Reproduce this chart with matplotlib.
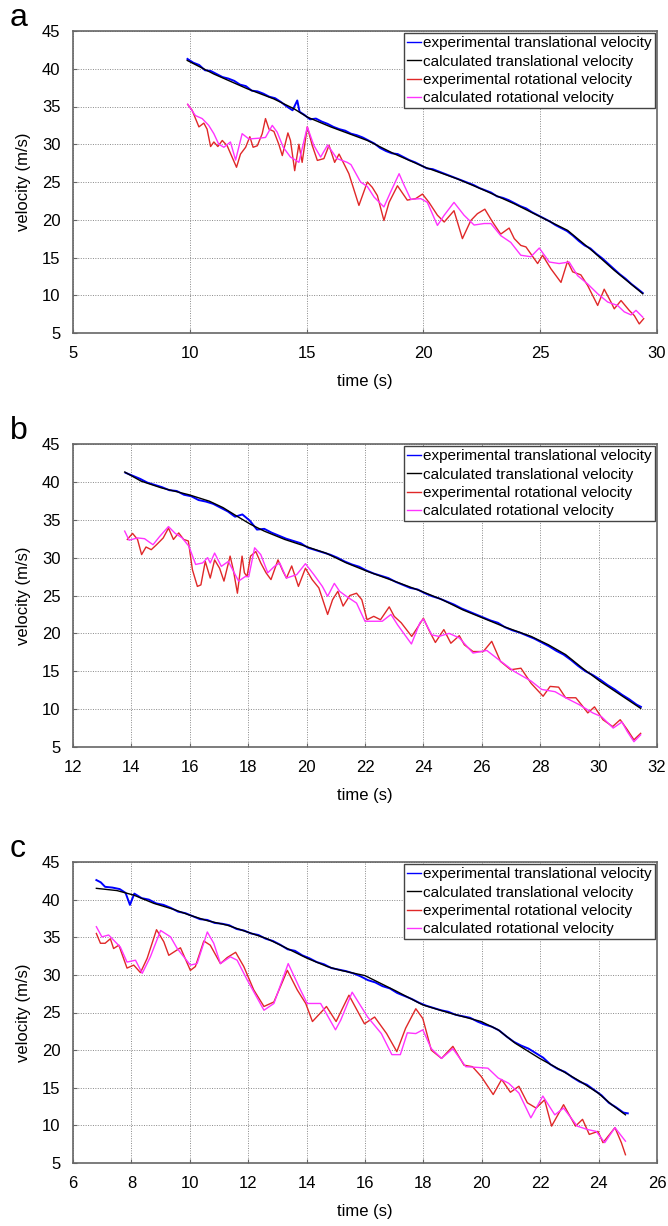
import matplotlib
matplotlib.use("Agg")
import matplotlib.pyplot as plt

plt.rcParams['font.family'] = ['Liberation Sans', 'DejaVu Sans']

labels = ["experimental translational velocity", "calculated translational velocity",
          "experimental rotational velocity", "calculated rotational velocity"]
panel_letters = ["a", "b", "c"]
yticks = [5, 10, 15, 20, 25, 30, 35, 40, 45]
a_xticks = [5, 10, 15, 20, 25, 30]
b_xticks = [12, 14, 16, 18, 20, 22, 24, 26, 28, 30, 32]
c_xticks = [6, 8, 10, 12, 14, 16, 18, 20, 22, 24, 26]

# ---------------- panel a ----------------
a_t_exp_tr = [9.9,10.15,10.4,10.65,10.9,11.15,11.4,11.65,11.9,12.15,12.4,12.65,12.9,13.15,13.4,13.65,13.9,14.15,14.4,14.6,14.7,
              14.9,15.15,15.4,15.65,15.9,16.15,16.4,16.65,16.9,17.15,17.4,17.65,17.9,18.15,18.4,18.65,18.9,19.15,19.4,19.65,
              19.9,20.15,20.4,20.65,20.9,21.15,21.4,21.65,21.9,22.15,22.4,22.65,22.9,23.15,23.4,23.65,23.9,24.15,24.4,24.65,
              24.9,25.15,25.4,25.65,25.9,26.15,26.4,26.65,26.9,27.15,27.4,27.65,27.9,28.15,28.4,28.65,28.9,29.15,29.39]
a_v_exp_tr = [41.3,40.8,40.5,39.8,39.7,39.3,38.9,38.7,38.4,37.9,37.7,37.1,37.0,36.7,36.3,36.1,35.6,35.0,34.5,35.8,34.3,
              33.9,33.3,33.4,33.0,32.7,32.3,32.0,31.8,31.4,31.2,30.9,30.5,30.1,29.5,29.1,28.8,28.7,28.3,27.9,27.6,
              27.2,26.8,26.7,26.4,26.1,25.8,25.5,25.2,24.9,24.6,24.2,23.9,23.6,23.1,22.9,22.6,22.2,21.8,21.5,21.0,
              20.6,20.2,19.8,19.3,18.9,18.5,17.9,17.2,16.6,16.2,15.5,14.9,14.2,13.5,12.8,12.2,11.5,10.9,10.3]
a_t_calc_tr = [9.89,11.03,12.46,13.6,14.46,15.03,16.03,17.6,18.74,20.03,21.46,22.46,23.9,25.03,26.17,27.3,28.17,29.39]
a_v_calc_tr = [41.1,39.3,37.35,36.0,34.7,33.6,32.3,30.5,28.75,27.0,25.4,24.1,22.1,20.35,18.6,15.7,13.3,10.2]
a_t_exp_rot = [9.91,10.1,10.39,10.6,10.74,10.89,11.03,11.2,11.39,11.6,11.81,12.0,12.17,12.39,12.57,12.71,12.89,
               13.1,13.24,13.39,13.6,13.81,13.96,14.2,14.31,14.49,14.67,14.81,15.03,
               15.24,15.46,15.74,15.96,16.2,16.39,16.81,17.24,17.6,17.81,18.03,18.31,18.53,18.89,19.31,19.67,19.96,
               20.24,20.6,20.89,21.31,21.67,22.03,22.31,22.63,22.96,23.31,23.67,23.89,24.17,24.39,24.89,25.1,25.46,
               25.89,26.17,26.39,26.74,27.03,27.46,27.74,28.03,28.17,28.46,28.81,29.03,29.24,29.43]
a_v_exp_rot = [35.27,34.5,32.3,32.8,32.0,29.7,30.3,29.7,30.5,29.8,28.3,26.95,28.7,29.6,31.0,29.6,29.8,
               31.4,33.4,32.0,31.7,30.0,28.5,31.5,30.5,26.5,30.0,27.6,32.3,
               29.85,27.86,28.1,29.85,27.6,28.7,26.1,21.9,25.0,24.3,23.2,19.9,22.3,24.5,22.6,22.8,23.4,
               22.3,20.6,19.7,21.2,17.5,19.9,20.8,21.4,19.7,18.1,18.9,17.5,16.6,16.4,14.2,15.3,13.5,
               11.7,14.5,13.1,12.7,11.3,8.65,10.8,9.1,8.2,9.3,8.0,7.3,6.2,6.9]
a_t_calc_rot = [9.91,10.24,10.53,10.81,11.03,11.24,11.46,11.74,11.96,12.24,12.53,12.96,13.24,13.53,13.74,14.0,14.31,14.53,
                14.67,15.03,15.31,15.6,15.9,16.3,16.74,16.9,17.31,17.6,17.89,18.31,18.6,18.96,19.17,19.46,19.89,20.17,
                20.6,20.89,21.31,21.74,22.17,22.6,22.89,23.31,23.74,24.17,24.6,24.96,25.39,25.81,26.24,26.6,27.03,27.46,
                27.89,28.31,28.6,28.89,29.1,29.39]
a_v_calc_rot = [35.3,33.8,33.4,32.5,31.4,30.0,29.6,30.3,27.9,31.4,30.7,30.8,30.9,32.5,31.6,29.6,28.3,27.9,
                27.6,32.3,29.85,28.3,29.9,28.1,27.6,27.3,25.0,24.4,23.0,21.7,23.7,26.1,24.6,22.7,22.8,22.3,
                19.25,20.6,22.3,20.6,19.3,19.5,19.5,17.9,17.0,15.3,15.1,16.25,14.4,14.2,14.4,12.6,11.5,10.2,
                9.1,8.65,7.8,7.4,8.0,7.1]

# ---------------- panel b ----------------
b_t_exp_tr = [13.8,14.05,14.3,14.55,14.8,15.05,15.3,15.55,15.8,16.05,16.3,16.55,16.8,17.05,17.3,17.55,17.8,18.05,18.3,18.55,
              18.8,19.05,19.3,19.55,19.8,20.05,20.3,20.55,20.8,21.05,21.3,21.55,21.8,22.05,22.3,22.55,22.8,23.05,23.3,23.55,
              23.8,24.05,24.3,24.55,24.8,25.05,25.3,25.55,25.8,26.05,26.3,26.55,26.8,27.05,27.3,27.55,27.8,28.05,28.3,28.55,
              28.8,29.05,29.3,29.55,29.8,30.05,30.3,30.55,30.8,31.05,31.3,31.45]
b_v_exp_tr = [41.2,40.8,40.4,39.9,39.6,39.3,38.9,38.8,38.3,38.1,37.6,37.4,37.1,36.6,36.1,35.4,35.7,34.9,33.7,33.8,
              33.3,32.9,32.5,32.2,31.9,31.3,31.0,30.7,30.4,30.0,29.5,29.1,28.8,28.3,27.9,27.6,27.3,26.8,26.4,26.0,
              25.8,25.3,24.9,24.6,24.2,23.8,23.3,22.9,22.5,22.1,21.7,21.4,20.8,20.4,20.1,19.7,19.3,18.8,18.3,17.7,
              17.2,16.5,15.7,15.0,14.5,13.9,13.2,12.6,11.9,11.3,10.6,10.3]
b_t_calc_tr = [13.77,14.33,15.03,15.97,16.67,17.14,17.6,18.08,18.55,19.25,19.96,20.66,21.36,22.07,23.0,23.94,24.64,
               25.35,26.05,26.75,27.69,28.28,28.87,29.45,30.04,30.74,31.44]
b_v_calc_tr = [41.3,40.1,39.2,38.3,37.45,36.6,35.5,34.4,33.5,32.4,31.5,30.6,29.3,28.2,26.9,25.55,24.45,
               23.1,22.0,20.9,19.6,18.5,17.2,15.4,13.7,11.9,10.1]
b_t_exp_rot = [13.86,14.04,14.21,14.35,14.5,14.68,14.86,15.09,15.27,15.44,15.62,15.79,15.95,16.09,16.26,16.38,16.53,16.7,
               16.85,17.02,17.17,17.38,17.49,17.63,17.79,17.87,17.96,18.08,18.26,18.43,18.61,18.78,19.02,19.19,19.31,
               19.49,19.72,19.96,20.19,20.42,20.72,20.89,21.07,21.25,21.48,21.71,21.89,22.07,22.3,22.53,22.83,23.0,
               23.24,23.6,23.82,24.0,24.18,24.41,24.7,24.94,25.23,25.4,25.7,26.05,26.34,26.64,26.99,27.34,27.69,28.1,
               28.34,28.63,28.87,29.22,29.45,29.63,29.86,30.15,30.48,30.74,30.98,31.21,31.44]
b_v_exp_rot = [32.4,33.2,32.4,30.4,31.4,31.05,31.7,32.6,33.9,32.4,33.26,32.4,32.2,28.4,26.2,26.4,29.5,27.3,
               29.7,28.6,26.9,30.2,28.4,25.3,30.2,28.0,27.5,30.2,30.8,29.3,28.0,27.1,29.7,28.2,27.3,
               28.9,26.2,28.6,27.1,26.0,22.5,24.45,25.55,23.6,25.0,25.3,24.45,21.8,22.25,21.8,23.5,22.25,
               21.4,19.6,20.9,22.0,20.5,18.8,20.5,18.7,19.7,18.5,17.6,17.6,18.95,16.3,15.2,15.4,13.4,11.7,
               13.0,12.9,11.5,11.5,10.4,9.5,10.3,8.6,7.7,8.6,7.3,5.95,6.8]
b_t_calc_rot = [13.77,13.92,14.21,14.45,14.74,14.97,15.27,15.5,15.74,15.97,16.2,16.44,16.61,16.7,16.85,17.08,17.32,17.67,
                17.9,18.02,18.22,18.43,18.67,18.9,19.08,19.31,19.66,19.96,20.25,20.54,20.72,20.95,21.13,21.36,21.71,
                22.0,22.3,22.59,22.89,23.12,23.59,23.88,24.0,24.29,24.53,24.88,25.23,25.7,26.17,26.52,27.1,27.69,28.05,
                28.51,28.87,29.33,29.8,30.1,30.5,30.8,30.98,31.21,31.44]
b_v_calc_rot = [33.5,32.3,32.6,32.5,31.7,32.8,34.1,33.2,32.6,31.5,29.1,29.3,30.0,29.3,30.6,28.85,29.5,26.9,
                27.5,27.5,31.3,30.4,28.0,28.85,29.3,27.3,27.75,29.2,27.75,26.2,24.9,26.6,25.55,24.9,24.0,
                21.6,21.6,21.6,22.5,21.1,18.6,21.4,21.9,19.8,19.6,20.0,19.4,17.4,17.75,16.7,15.0,13.7,12.6,
                12.3,11.5,10.6,9.5,9.0,7.5,8.3,7.05,5.7,6.6]

# ---------------- panel c ----------------
c_t_exp_tr = [6.8,6.95,7.1,7.35,7.6,7.8,7.95,8.1,8.35,8.6,8.85,9.1,9.35,9.6,9.85,10.1,10.35,10.6,10.85,11.1,11.35,
              11.6,11.85,12.1,12.35,12.6,12.85,13.1,13.35,13.6,13.85,14.1,14.35,14.6,14.85,15.1,15.35,15.6,15.85,16.1,
              16.35,16.6,16.85,17.1,17.35,17.6,17.85,18.1,18.35,18.6,18.85,19.1,19.35,19.6,19.85,20.1,20.35,20.6,20.85,
              21.1,21.35,21.6,21.85,22.1,22.35,22.6,22.85,23.1,23.35,23.6,23.85,24.1,24.35,24.6,24.85,25.0]
c_v_exp_tr = [42.6,42.3,41.7,41.6,41.4,40.9,39.3,40.8,40.2,40.0,39.5,39.3,38.9,38.4,38.2,37.8,37.4,37.3,36.9,36.8,36.6,
              36.1,35.9,35.5,35.3,34.8,34.5,34.0,33.4,33.2,32.6,32.2,31.7,31.4,30.9,30.7,30.5,30.2,29.8,29.3,
              29.0,28.5,28.2,27.6,27.2,26.8,26.3,25.9,25.6,25.3,25.1,24.7,24.5,24.3,23.8,23.4,23.1,22.6,21.8,
              21.1,20.6,20.2,19.6,19.0,18.1,17.5,17.1,16.4,15.8,15.4,14.7,14.0,13.0,12.4,11.7,11.6]
c_t_calc_tr = [6.8,7.51,8.08,8.77,9.45,10.02,10.6,11.28,11.97,12.65,13.34,14.02,14.71,15.17,16.0,17.04,17.98,18.92,
               19.98,20.56,21.15,21.98,22.68,23.39,23.98,24.45,24.92]
c_v_calc_tr = [41.5,41.2,40.6,39.5,38.7,37.9,37.2,36.6,35.7,34.8,33.5,32.2,31.1,30.6,29.9,27.9,26.0,24.9,
               23.8,22.7,20.9,18.9,17.4,15.8,14.3,12.75,11.4]
c_t_exp_rot = [6.8,6.94,7.1,7.28,7.39,7.57,7.85,8.08,8.31,8.54,8.86,9.11,9.28,9.68,10.02,10.19,10.48,10.7,11.05,11.28,
               11.57,11.85,12.19,12.54,12.88,13.34,13.68,13.97,14.2,14.68,15.01,15.45,15.98,16.33,16.74,17.09,17.39,
               17.74,17.98,18.27,18.62,19.01,19.39,19.68,19.98,20.39,20.68,20.98,21.27,21.56,21.86,22.15,22.39,22.8,
               23.21,23.45,23.68,23.98,24.15,24.56,24.78,24.92]
c_v_exp_rot = [35.5,34.2,34.2,34.8,33.5,33.95,30.9,31.3,30.3,32.2,36.0,34.4,32.6,33.6,30.6,31.1,34.5,33.95,31.5,32.3,
               33.0,31.1,28.0,25.8,26.4,30.6,28.0,26.2,23.8,25.8,23.8,27.3,23.5,24.4,22.2,19.8,22.9,
               25.5,24.2,20.0,18.9,20.5,18.0,17.8,16.5,14.1,16.1,14.4,15.2,13.0,12.3,13.4,9.9,12.75,
               9.9,10.8,8.8,9.2,7.7,9.7,7.7,6.1]
c_t_calc_rot = [6.8,6.99,7.22,7.62,7.85,8.14,8.37,8.65,9.0,9.34,9.57,10.02,10.25,10.6,10.82,11.05,11.39,11.62,11.97,
                12.54,12.88,13.37,13.79,14.02,14.48,14.99,15.17,15.56,16.09,16.56,16.92,17.21,17.45,17.74,17.98,18.27,
                18.62,19.01,19.45,19.86,20.21,20.56,20.92,21.27,21.68,22.09,22.5,22.8,23.27,23.62,23.92,24.21,24.56,24.92]
c_v_calc_rot = [36.4,35.05,35.3,33.7,31.7,31.95,30.2,32.4,35.9,35.05,33.5,31.3,31.5,35.7,34.2,31.5,32.4,31.95,29.3,
                25.3,26.2,31.5,28.0,26.2,26.2,22.7,24.0,27.7,24.4,22.2,19.4,19.4,22.3,22.2,22.7,20.2,
                18.9,20.2,17.8,17.7,17.6,16.3,15.6,14.3,11.0,13.9,11.4,12.3,9.9,9.45,9.2,7.7,9.7,7.9]

panels = [
    (a_t_exp_tr, a_v_exp_tr, a_t_calc_tr, a_v_calc_tr, a_t_exp_rot, a_v_exp_rot, a_t_calc_rot, a_v_calc_rot, a_xticks),
    (b_t_exp_tr, b_v_exp_tr, b_t_calc_tr, b_v_calc_tr, b_t_exp_rot, b_v_exp_rot, b_t_calc_rot, b_v_calc_rot, b_xticks),
    (c_t_exp_tr, c_v_exp_tr, c_t_calc_tr, c_v_calc_tr, c_t_exp_rot, c_v_exp_rot, c_t_calc_rot, c_v_calc_rot, c_xticks),
]

W, H = 668, 1226
fig = plt.figure(figsize=(W / 100, H / 100), dpi=100)
boxes = [(31, 333), (444, 747), (862, 1163)]
left_px, right_px = 73, 657

colors = ['#0000ff', '#000000', '#e02828', '#ff33ff']

for i, (p, (ytop, ybot)) in enumerate(zip(panels, boxes)):
    ax = fig.add_axes([left_px / W, 1 - ybot / H, (right_px - left_px) / W, (ybot - ytop) / H])
    ax.plot(p[0], p[1], color=colors[0], lw=1.4, label=labels[0])
    ax.plot(p[2], p[3], color=colors[1], lw=1.0, label=labels[1])
    ax.plot(p[4], p[5], color=colors[2], lw=1.0, label=labels[2])
    ax.plot(p[6], p[7], color=colors[3], lw=1.0, label=labels[3])
    xt = p[8]
    ax.set_xlim(xt[0], xt[-1])
    ax.set_ylim(5, 45)
    ax.set_xticks(xt)
    ax.set_yticks(yticks)
    ax.grid(True, linestyle=(0, (1, 1.5)), color='#888888', linewidth=0.7)
    for s in ax.spines.values():
        s.set_color('#666666')
        s.set_linewidth(1.2)
    ax.tick_params(direction='in', length=3, width=0.8, color='#666666', labelsize=12, pad=9)
    ax.set_xlabel('time (s)', fontsize=12, labelpad=10)
    ax.set_ylabel('velocity (m/s)', fontsize=12, labelpad=8)
    leg = ax.legend(loc='upper right', fontsize=11, handlelength=0.9, handletextpad=0.15,
                    labelspacing=0.28, borderpad=0.2, borderaxespad=0.15, fancybox=False,
                    framealpha=1.0, edgecolor='#444444')
    leg.get_frame().set_linewidth(1.0)
    for line in leg.get_lines():
        line.set_linewidth(1.0)
    fig.text(10 / W, 1 - (ytop - 13) / H, panel_letters[i], fontsize=23, va='center', ha='left')

fig.savefig('out.png', dpi=100)
